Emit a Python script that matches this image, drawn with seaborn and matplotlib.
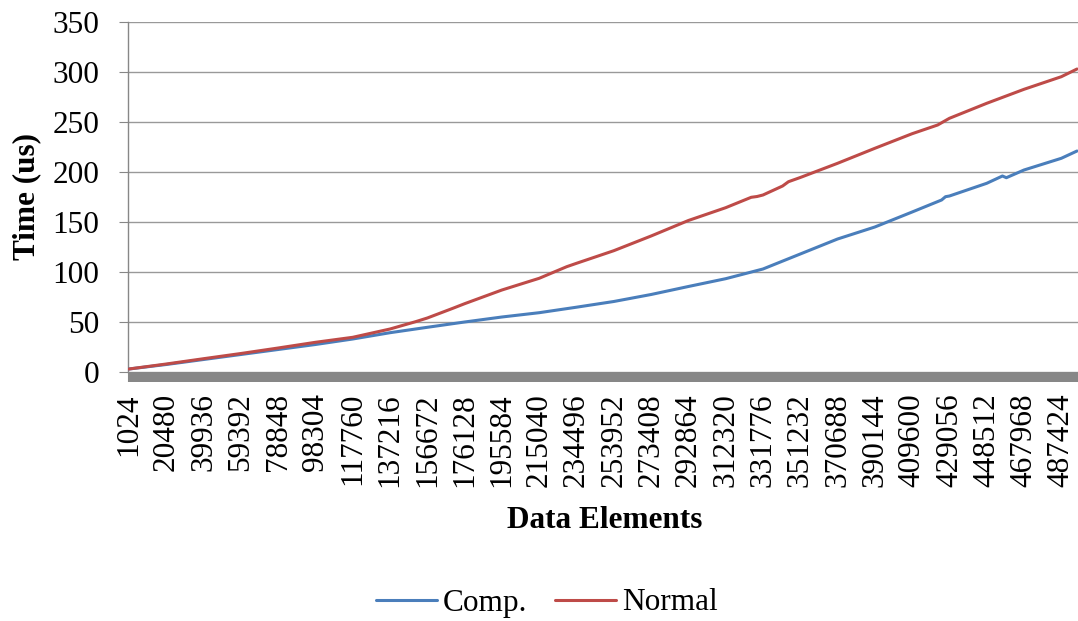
import numpy as np
import pandas as pd
import matplotlib
matplotlib.use("Agg")
import matplotlib.pyplot as plt
import seaborn as sns

# Measured run times (microseconds) against the number of data elements
comp_elements = [1024, 20480, 39936, 59392, 78848, 98304, 117760, 137216, 156672,
                 176128, 195584, 215040, 234496, 253952, 273408, 292864, 312320,
                 331776, 351232, 370688, 390144, 409600, 424960, 427008, 429056,
                 448512, 456704, 458752, 467968, 487424, 495616]
comp_time = [3, 7.5, 12.5, 17.5, 22.5, 27.5, 33, 39.3, 44.7,
             50, 55, 59.3, 64.8, 70.5, 77.5, 85.5, 93.3,
             103, 118, 133, 145, 160, 172, 175.3, 176,
             188.7, 196, 194.3, 202, 213.7, 221]

normal_elements = [1024, 20480, 39936, 59392, 78848, 98304, 117760, 137216, 150528,
                   156672, 169984, 176128, 195584, 215040, 229376, 234496, 253952,
                   273408, 292864, 312320, 325632, 328704, 331776, 342016, 345088,
                   351232, 370688, 390144, 409600, 422912, 429056, 448512, 467968,
                   487424, 495616]
normal_time = [3, 8, 13.3, 18.5, 24, 29.7, 34.7, 43, 50.3,
               54, 63.7, 68.3, 82, 93.7, 105.3, 108.7, 121.3,
               136, 151.5, 164.3, 174.7, 175.5, 177, 186, 190.3,
               194.5, 208.7, 223.7, 238.3, 247, 253.7, 268.7, 282.7,
               295.3, 303]

series_names = ["Comp.", "Normal"]
series_colors = ["#4A7EBB", "#BE4B48"]

# Axis settings
step = 1024
label_every = 19
first_label = 1024
last_category = 495616
y_ticks = [0, 50, 100, 150, 200, 250, 300, 350]

df = pd.concat([
    pd.DataFrame({"Data Elements": comp_elements, "Time": comp_time, "Series": series_names[0]}),
    pd.DataFrame({"Data Elements": normal_elements, "Time": normal_time, "Series": series_names[1]}),
], ignore_index=True)

sns.set_theme(style="white")
plt.rcParams["font.family"] = ["Liberation Serif", "DejaVu Serif"]
plt.rcParams["text.color"] = "black"
plt.rcParams["axes.labelcolor"] = "black"

W, H = 1078, 621
fig = plt.figure(figsize=(W / 100, H / 100), dpi=100)
ax = fig.add_axes([128 / W, (H - 372) / H, (W - 128) / W, 350 / H])

grid_color = "#999999"
axis_color = "#878787"

sns.lineplot(data=df, x="Data Elements", y="Time", hue="Series",
             hue_order=series_names, palette=series_colors, estimator=None,
             linewidth=2.2, legend=False, ax=ax, zorder=3)

ax.set_ylim(0, 350)
ax.set_xlim(first_label - step / 2, last_category + step / 2)
ax.set_yticks(y_ticks)
ax.set_yticklabels([str(v) for v in y_ticks])
ax.yaxis.grid(True, color=grid_color, linewidth=1.0)
ax.xaxis.grid(False)
ax.set_axisbelow(True)

major = np.arange(first_label, last_category + 1, step * label_every)
minor = np.arange(first_label, last_category + 1, step)
ax.set_xticks(major)
ax.set_xticklabels([str(v) for v in major], rotation=90)
ax.set_xticks(minor, minor=True)

ax.tick_params(axis="x", which="both", direction="out", length=7.2, width=1.5,
               color=axis_color, bottom=True)
ax.tick_params(axis="x", which="major", labelsize=22.5, pad=8, labelcolor="black")
ax.tick_params(axis="y", direction="out", length=6.5, width=0.8, color=axis_color,
               labelsize=22.5, pad=14, labelcolor="black", left=True)

for side in ["top", "right", "bottom"]:
    ax.spines[side].set_visible(False)
ax.spines["left"].set_color(axis_color)
ax.spines["left"].set_linewidth(1.0)

ax.set_xlabel("")
ax.set_ylabel("")
fig.text(27 / W, (H - 197) / H, "Time (us)", rotation=90, ha="center", va="center",
         fontsize=22.5, fontweight="bold", color="black")
fig.text(605 / W, (H - 521) / H, "Data Elements", ha="center", va="center",
         fontsize=22.5, fontweight="bold", color="black")

handles = ax.get_lines()[:2]
leg = fig.legend(handles, series_names, loc="center", bbox_to_anchor=(547 / W, (H - 603) / H),
                 ncol=2, frameon=False, fontsize=22.5, handlelength=1.95,
                 handletextpad=0.2, columnspacing=0.9)
for t in leg.get_texts():
    t.set_color("black")

fig.savefig("out.png", dpi=100)
